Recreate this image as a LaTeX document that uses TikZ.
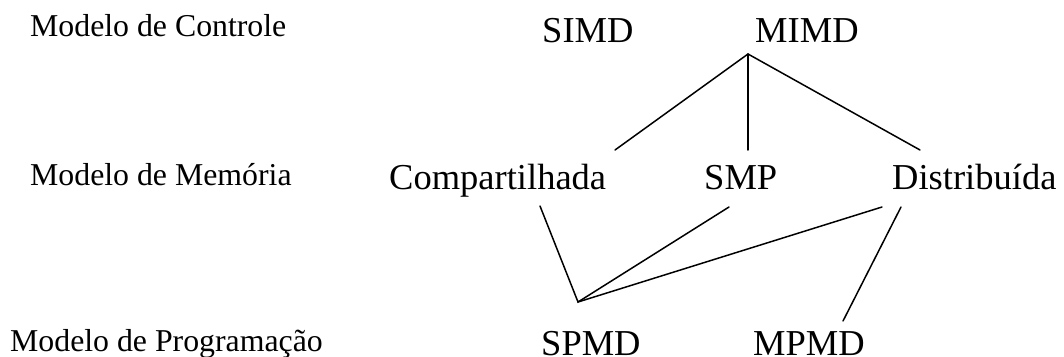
\documentclass[tikz,border=0pt]{standalone}
\usepackage{fontspec}
\setmainfont{Liberation Serif}
\begin{document}
\begin{tikzpicture}[x=1pt,y=-1pt,
  rowlabel/.style={anchor=base west,inner sep=0pt,font=\fontsize{31.8}{36}\selectfont},
  model/.style={anchor=base west,inner sep=0pt,text depth=0pt,font=\fontsize{36.5}{40}\selectfont},
  link/.style={line width=1.5pt,line cap=round}]
\path[use as bounding box] (0,0) rectangle (1064,356);

% level labels
\node[rowlabel] (lctrl) at (30,36) {Modelo de Controle};
\node[rowlabel] (lmem)  at (30,185) {Modelo de Memória};
\node[rowlabel] (lprog) at (10,351) {Modelo de Programação};

% control models
\node[model] (simd) at (542,42) {SIMD};
\node[model] (mimd) at (755,42) {MIMD};

% memory models
\node[model] (comp) at (389,189) {Compartilhada};
\node[model] (smp)  at (704,189) {SMP};
\node[model] (dist) at (892,189) {Distribuída};

% programming models
\node[model] (spmd) at (541,355) {SPMD};
\node[model] (mpmd) at (753,355) {MPMD};

% connector ends
\coordinate (mimdJ) at (748,54);
\coordinate (compT) at (615,150);
\coordinate (smpT)  at (748,150);
\coordinate (distT) at (920,150);
\coordinate (compB) at (540,206);
\coordinate (smpB)  at (729,207);
\coordinate (distB) at (882,207);
\coordinate (distR) at (901,207);
\coordinate (spmdJ) at (578,302);
\coordinate (mpmdT) at (843,321);

\draw[link] (compT) -- (mimdJ) -- (distT);
\draw[link] (mimdJ) -- (smpT);
\draw[link] (compB) -- (spmdJ) -- (smpB);
\draw[link] (spmdJ) -- (distB);
\draw[link] (distR) -- (mpmdT);
\end{tikzpicture}
\end{document}
